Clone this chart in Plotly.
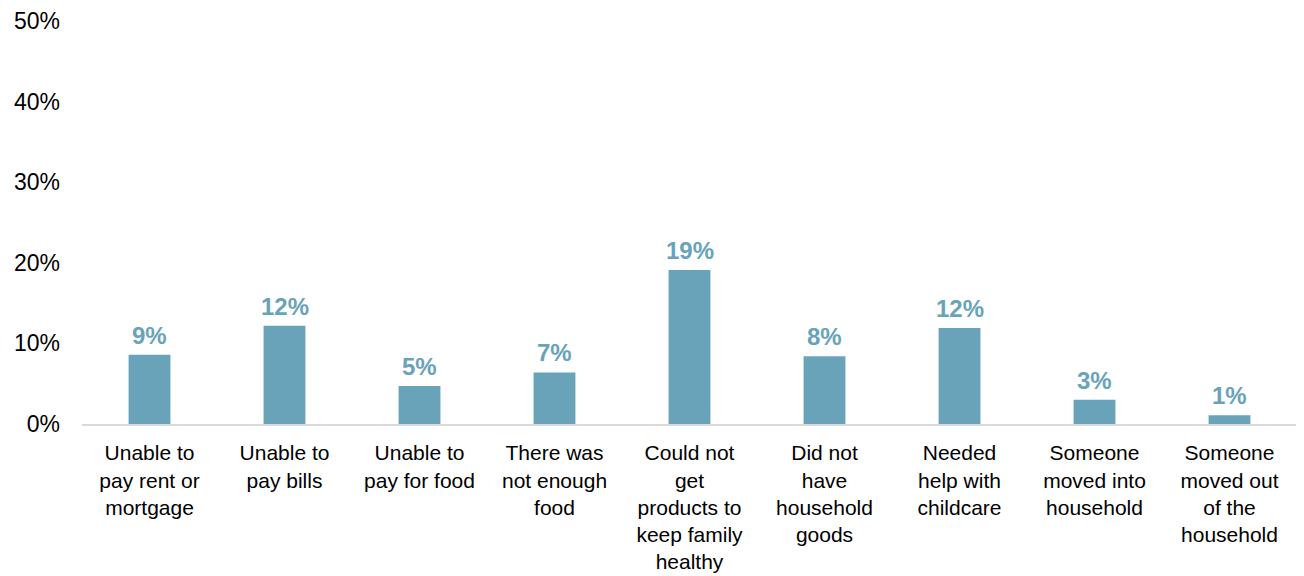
import plotly.graph_objects as go

categories = [
    "Unable to<br>pay rent or<br>mortgage",
    "Unable to<br>pay bills",
    "Unable to<br>pay for food",
    "There was<br>not enough<br>food",
    "Could not<br>get<br>products to<br>keep family<br>healthy",
    "Did not<br>have<br>household<br>goods",
    "Needed<br>help with<br>childcare",
    "Someone<br>moved into<br>household",
    "Someone<br>moved out<br>of the<br>household",
]
values = [0.086, 0.122, 0.047, 0.064, 0.191, 0.084, 0.119, 0.030, 0.011]
labels = ["9%", "12%", "5%", "7%", "19%", "8%", "12%", "3%", "1%"]
tick_vals = [0, 0.1, 0.2, 0.3, 0.4, 0.5]
tick_text = ["0%", "10%", "20%", "30%", "40%", "50%"]

bar_color = "#68A3BA"
font_family = "Liberation Sans, Arial, sans-serif"

fig = go.Figure()
fig.add_trace(go.Bar(
    x=categories, y=values,
    marker=dict(color=bar_color, line=dict(width=0)),
    hoverinfo="skip",
))

for c, v, t in zip(categories, values, labels):
    fig.add_annotation(
        x=c, y=v, text=f"<b>{t}</b>", showarrow=False,
        yanchor="bottom", yshift=4,
        font=dict(family=font_family, size=24, color=bar_color),
    )

# page body has an 8px margin, so the figure is sized to fill the rest
fig.update_layout(
    width=1296, height=568,
    margin=dict(l=74, r=7, t=13, b=152, autoexpand=False),
    plot_bgcolor="white", paper_bgcolor="white",
    bargap=0.69,
    showlegend=False,
    font=dict(family=font_family, size=21, color="#000000"),
    xaxis=dict(
        showline=True, linecolor="#D9D9D9", linewidth=2,
        showgrid=False, ticks="", tickfont=dict(size=21, color="#000000"),
        ticklabelstandoff=9, automargin=False,
    ),
    yaxis=dict(
        range=[0, 0.5], tickvals=tick_vals, ticktext=tick_text,
        showgrid=False, zeroline=False, showline=False, ticks="",
        tickfont=dict(size=23, color="#000000"),
        ticklabelstandoff=21, automargin=False,
    ),
)

fig.write_html("out.html")
